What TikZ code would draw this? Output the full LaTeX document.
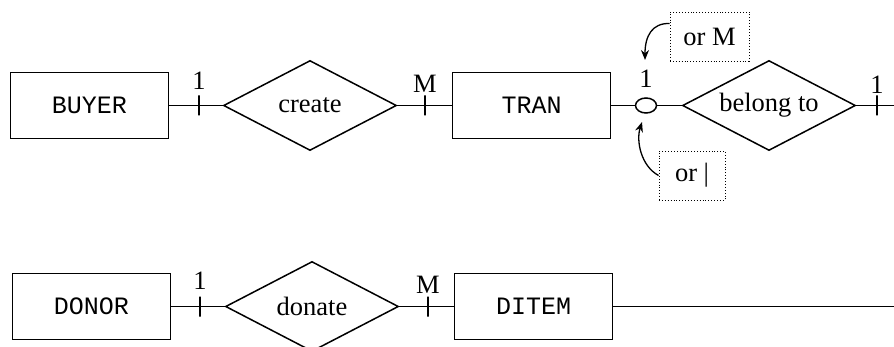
\documentclass[tikz,border=0pt]{standalone}
\usepackage{fontspec}
\setmainfont{Liberation Serif}
\setmonofont{Liberation Mono}
\usetikzlibrary{shapes.geometric,arrows.meta}
\begin{document}
\begin{tikzpicture}[x=1pt,y=1pt,line width=1.2pt,
  entity/.style={draw,rectangle,minimum width=158pt,minimum height=66pt,inner sep=0pt,font=\ttfamily\fontsize{25}{30}\selectfont},
  rel/.style={draw,diamond,aspect=1.9,line width=1.5pt,minimum width=173pt,minimum height=90pt,inner sep=0pt,font=\fontsize{26.5}{30}\selectfont},
  card/.style={inner sep=0pt,font=\fontsize{26.5}{30}\selectfont},
  tickmark/.style={draw,rectangle,minimum width=0pt,minimum height=20pt,inner sep=0pt},
  opt/.style={draw,ellipse,line width=1.5pt,minimum width=21pt,minimum height=15pt,inner sep=0pt},
  note/.style={draw,dotted,line width=0.9pt,inner sep=0pt,minimum height=49pt,font=\fontsize{26.5}{30}\selectfont},
  callout/.style={-{Stealth[length=10pt,width=8pt]},line width=1.3pt}]
\useasboundingbox (0,0) rectangle (894,346);
% row 1
\node[entity] (buyer) at (89.5,240.5) {BUYER};
\node[rel] (create) at (310,240.5) {create};
\node[entity] (tran) at (531.5,240.5) {TRAN};
\node[opt] (opt) at (646,240.5) {};
\node[rel] (belong) at (769,240.5) {belong to};
\coordinate (end1) at (894,240.5);
\draw (buyer) -- (create);
\draw (create) -- (tran);
\draw (tran) -- (opt);
\draw (opt) -- (belong);
\draw (belong) -- (end1);
\node[tickmark] (t1) at (199,240.5) {};
\node[tickmark] (t2) at (425,240.5) {};
\node[tickmark] (t3) at (877,240.5) {};
\node[card] (c1) at (199,265) {1};
\node[card] (c2) at (425,262) {M};
\node[card] (c3) at (877,261) {1};
\node[card] (c4) at (646,267) {1};
% notes
\node[note,minimum width=79pt] (orM) at (709.5,309.5) {or M};
\node[note,minimum width=66pt] (orI) at (692,170.5) {or |};
\coordinate (tipM) at (645,286);
\coordinate (tipI) at (642,224);
\draw[callout] ([yshift=13pt]orM.west) .. controls (652,323) and (645,310) .. (tipM);
\draw[callout] (orI.west) .. controls (641,180) and (636,205) .. (tipI);
% row 2
\node[entity] (donor) at (91.5,39.5) {DONOR};
\node[rel] (donate) at (312,39.5) {donate};
\node[entity] (ditem) at (533.5,39.5) {DITEM};
\coordinate (end2) at (894,39.5);
\draw (donor) -- (donate);
\draw (donate) -- (ditem);
\draw (ditem) -- (end2);
\node[tickmark] (t4) at (200,39.5) {};
\node[tickmark] (t5) at (428,39.5) {};
\node[card] (c5) at (200,65) {1};
\node[card] (c6) at (428,61) {M};
\end{tikzpicture}
\end{document}
